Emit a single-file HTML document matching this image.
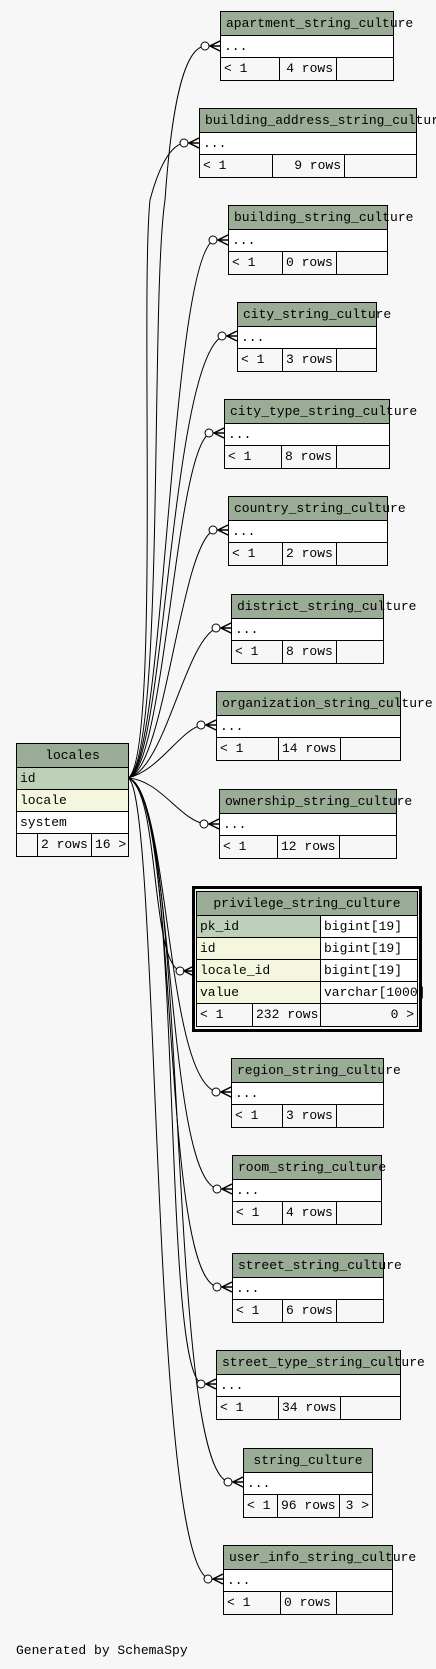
<!DOCTYPE html>
<html><head><meta charset="utf-8"><style>
body{margin:0;width:436px;height:1669px;background:#f7f7f7;position:relative;overflow:hidden;font-family:"Liberation Mono",monospace;font-size:13px;color:#000}
.t{position:absolute;border:1px solid #000;background:#fff;box-sizing:border-box}
.h{height:23px;line-height:23px;background:#9aab96;border-bottom:1px solid #000;white-space:nowrap;text-align:center;padding:0 5px}
.r{height:21px;line-height:21px;border-bottom:1px solid #000;padding:0 3px;white-space:nowrap;background:#fff}
.f{height:22px;line-height:22px;display:flex;background:#f7f7f7}
.f span{border-right:1px solid #000;box-sizing:border-box;padding:0 3px;white-space:nowrap;flex-shrink:0}
.f span:last-child{border-right:none;flex:1;text-align:right}
.f span.n{text-align:right}
.pk{background:#bfd0b8}.fk{background:#f4f7de}
.c1{width:124px;flex-shrink:0;border-right:1px solid #000;padding:0 3px;box-sizing:border-box}
.c2{padding:0 3px;background:#fff;flex:1;min-width:0;overflow:visible}
.g{position:absolute;left:16px;top:1643px;font-size:13px}
svg{position:absolute;left:0;top:0}
</style></head><body>
<svg width="436" height="1669" fill="none" stroke="#000" stroke-width="1">
<g id="c">
<path d="M128,778 C165,760 150,300 165,200 C172,100 185,46 206,46"/>
<path d="M128,778 C160,760 140,300 150,200 C158,170 170,143 186,143"/>
<path d="M128,778 C165,770 170,260 214,240"/>
<path d="M128,778 C165,770 170,360 223,336"/>
<path d="M128,778 C165,770 175,450 210,433"/>
<path d="M128,778 C165,770 180,545 214,530"/>
<path d="M128,778 C165,770 185,640 217,628"/>
<path d="M128,778 C160,770 180,730 202,725"/>
<path d="M128,778 C160,780 180,820 205,824"/>
<path d="M128,778 C160,790 150,960 180,971"/>
<path d="M128,778 C170,790 165,1080 217,1092"/>
<path d="M128,778 C175,790 165,1180 218,1189"/>
<path d="M128,778 C180,790 160,1280 218,1287"/>
<path d="M128,778 C185,790 160,1370 202,1384"/>
<path d="M128,778 C190,790 165,1470 229,1482"/>
<path d="M128,778 C160,790 150,1560 209,1579"/>
</g>
<g fill="#fff">
<circle cx="205" cy="46" r="4"/><circle cx="184" cy="143" r="4"/><circle cx="213" cy="240" r="4"/><circle cx="222" cy="336" r="4"/><circle cx="209" cy="433" r="4"/><circle cx="213" cy="530" r="4"/><circle cx="216" cy="628" r="4"/><circle cx="201" cy="725" r="4"/><circle cx="204" cy="824" r="4"/><circle cx="180" cy="971" r="4"/><circle cx="216" cy="1092" r="4"/><circle cx="217" cy="1189" r="4"/><circle cx="217" cy="1287" r="4"/><circle cx="201" cy="1384" r="4"/><circle cx="228" cy="1482" r="4"/><circle cx="208" cy="1579" r="4"/>
</g>
<g stroke-width="1.5">
<path d="M220,41 L210,46 L220,51 M210,46 H220"/>
<path d="M199,138 L189,143 L199,148 M189,143 H199"/>
<path d="M228,235 L218,240 L228,245 M218,240 H228"/>
<path d="M237,331 L227,336 L237,341 M227,336 H237"/>
<path d="M224,428 L214,433 L224,438 M214,433 H224"/>
<path d="M228,525 L218,530 L228,535 M218,530 H228"/>
<path d="M231,623 L221,628 L231,633 M221,628 H231"/>
<path d="M216,720 L206,725 L216,730 M206,725 H216"/>
<path d="M219,819 L209,824 L219,829 M209,824 H219"/>
<path d="M194,966 L184,971 L194,976 M184,971 H194"/>
<path d="M231,1087 L221,1092 L231,1097 M221,1092 H231"/>
<path d="M232,1184 L222,1189 L232,1194 M222,1189 H232"/>
<path d="M232,1282 L222,1287 L232,1292 M222,1287 H232"/>
<path d="M216,1379 L206,1384 L216,1389 M206,1384 H216"/>
<path d="M243,1477 L233,1482 L243,1487 M233,1482 H243"/>
<path d="M223,1574 L213,1579 L223,1584 M213,1579 H223"/>
</g>
<rect x="193.5" y="887.5" width="227" height="143" stroke-width="3"/>
</svg>

<div class="t" style="left:220px;top:11px;width:174px"><div class="h">apartment_string_culture</div><div class="r">...</div><div class="f"><span style="width:59px">&lt; 1</span><span class="n" style="width:57px">4 rows</span><span></span></div></div>
<div class="t" style="left:199px;top:108px;width:218px"><div class="h">building_address_string_culture</div><div class="r">...</div><div class="f"><span style="width:73px">&lt; 1</span><span class="n" style="width:72px">9 rows</span><span></span></div></div>
<div class="t" style="left:228px;top:205px;width:160px"><div class="h">building_string_culture</div><div class="r">...</div><div class="f"><span style="width:54px">&lt; 1</span><span style="width:54px">0 rows</span><span></span></div></div>
<div class="t" style="left:237px;top:302px;width:140px"><div class="h">city_string_culture</div><div class="r">...</div><div class="f"><span style="width:45px">&lt; 1</span><span style="width:54px">3 rows</span><span></span></div></div>
<div class="t" style="left:224px;top:399px;width:166px"><div class="h">city_type_string_culture</div><div class="r">...</div><div class="f"><span style="width:57px">&lt; 1</span><span style="width:55px">8 rows</span><span></span></div></div>
<div class="t" style="left:228px;top:496px;width:160px"><div class="h">country_string_culture</div><div class="r">...</div><div class="f"><span style="width:54px">&lt; 1</span><span style="width:54px">2 rows</span><span></span></div></div>
<div class="t" style="left:231px;top:594px;width:153px"><div class="h">district_string_culture</div><div class="r">...</div><div class="f"><span style="width:51px">&lt; 1</span><span style="width:54px">8 rows</span><span></span></div></div>
<div class="t" style="left:216px;top:691px;width:185px"><div class="h">organization_string_culture</div><div class="r">...</div><div class="f"><span style="width:62px">&lt; 1</span><span style="width:62px">14 rows</span><span></span></div></div>
<div class="t" style="left:219px;top:789px;width:178px"><div class="h">ownership_string_culture</div><div class="r">...</div><div class="f"><span style="width:58px">&lt; 1</span><span style="width:62px">12 rows</span><span></span></div></div>

<div class="t" style="left:196px;top:891px;width:222px">
<div class="h">privilege_string_culture</div>
<div class="r pk" style="display:flex;padding:0"><span class="c1">pk_id</span><span class="c2">bigint[19]</span></div>
<div class="r fk" style="display:flex;padding:0"><span class="c1">id</span><span class="c2">bigint[19]</span></div>
<div class="r fk" style="display:flex;padding:0"><span class="c1">locale_id</span><span class="c2">bigint[19]</span></div>
<div class="r fk" style="display:flex;padding:0"><span class="c1">value</span><span class="c2">varchar[1000]</span></div>
<div class="f"><span style="width:56px">&lt; 1</span><span style="width:68px">232 rows</span><span>0 &gt;</span></div>
</div>

<div class="t" style="left:231px;top:1058px;width:153px"><div class="h">region_string_culture</div><div class="r">...</div><div class="f"><span style="width:51px">&lt; 1</span><span style="width:54px">3 rows</span><span></span></div></div>
<div class="t" style="left:232px;top:1155px;width:150px"><div class="h">room_string_culture</div><div class="r">...</div><div class="f"><span style="width:50px">&lt; 1</span><span style="width:54px">4 rows</span><span></span></div></div>
<div class="t" style="left:232px;top:1253px;width:152px"><div class="h">street_string_culture</div><div class="r">...</div><div class="f"><span style="width:50px">&lt; 1</span><span style="width:54px">6 rows</span><span></span></div></div>
<div class="t" style="left:216px;top:1350px;width:185px"><div class="h">street_type_string_culture</div><div class="r">...</div><div class="f"><span style="width:62px">&lt; 1</span><span style="width:62px">34 rows</span><span></span></div></div>
<div class="t" style="left:243px;top:1448px;width:130px"><div class="h">string_culture</div><div class="r">...</div><div class="f"><span style="width:34px">&lt; 1</span><span style="width:62px">96 rows</span><span>3 &gt;</span></div></div>
<div class="t" style="left:223px;top:1545px;width:170px"><div class="h">user_info_string_culture</div><div class="r">...</div><div class="f"><span style="width:57px">&lt; 1</span><span style="width:56px">0 rows</span><span></span></div></div>

<div class="t" style="left:16px;top:743px;width:113px">
<div class="h">locales</div>
<div class="r pk">id</div>
<div class="r fk">locale</div>
<div class="r">system</div>
<div class="f"><span style="width:21px"></span><span style="width:54px">2 rows</span><span>16 &gt;</span></div>
</div>

<div class="g">Generated by SchemaSpy</div>
</body></html>
